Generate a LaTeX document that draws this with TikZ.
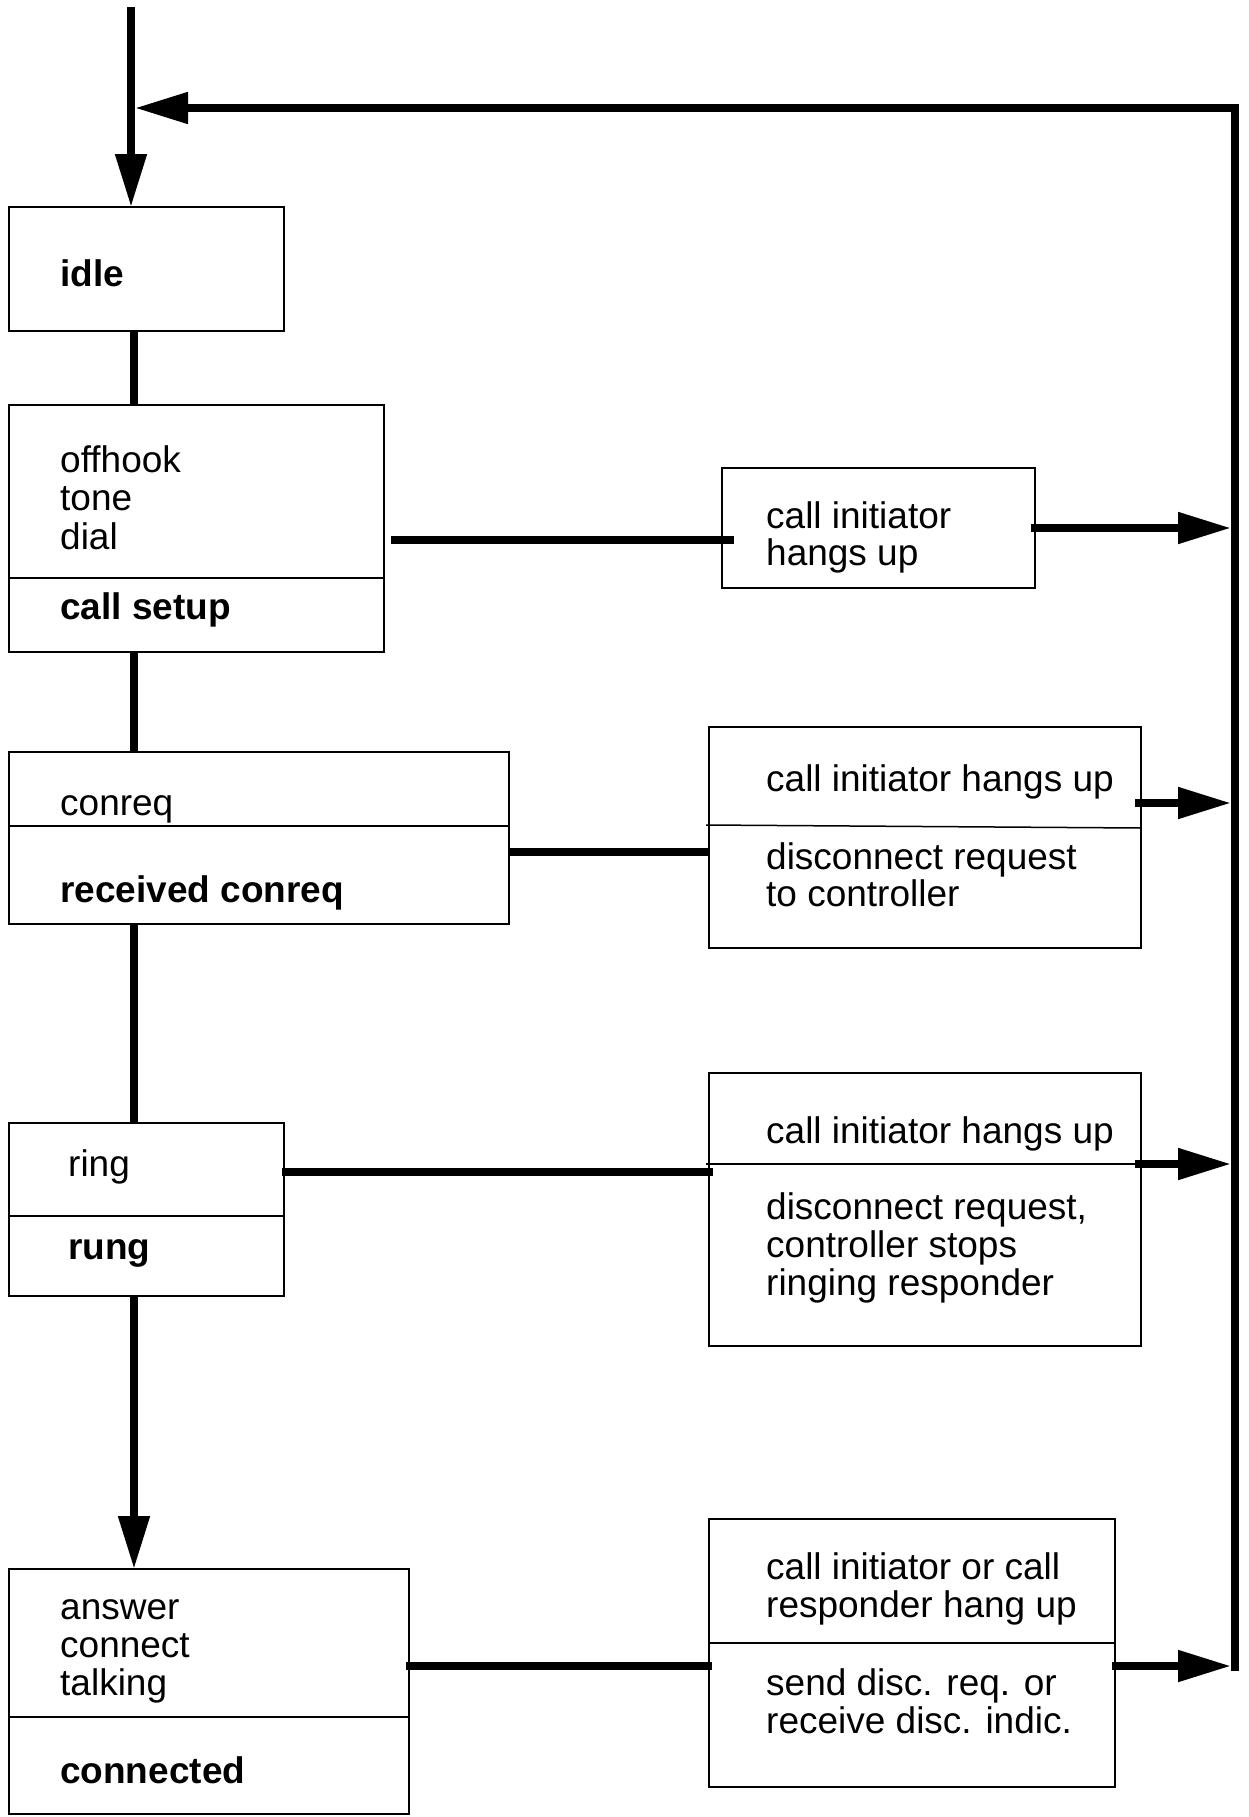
\documentclass[tikz,border=0pt]{standalone}
\usepackage{fontspec}
\setmainfont{Liberation Sans}
\usetikzlibrary{arrows.meta}
\newcommand\dgfont{\fontsize{37}{38}\selectfont}
\tikzset{
  box/.style={draw, line width=1.5pt, anchor=north west, inner sep=0pt, outer sep=0pt},
  divline/.style={line width=1.5pt},
  conn/.style={line width=8pt},
  flow/.style={line width=8pt, -{Triangle[length=53pt,width=30pt]}},
  txt/.style={anchor=base west, inner sep=0pt, font=\dgfont, yshift=-2pt},
  txtb/.style={txt, font=\dgfont\bfseries}
}
\begin{document}
\begin{tikzpicture}[x=1pt,y=-1pt]
\useasboundingbox (0,0) rectangle (1249,1817);
% state boxes
\node[box, minimum width=275pt, minimum height=124pt] (idle) at (9,207) {};
\node[box, minimum width=375pt, minimum height=247pt] (setup) at (9,405) {};
\node[box, minimum width=500pt, minimum height=172pt] (conreq) at (9,752) {};
\node[box, minimum width=275pt, minimum height=173pt] (rung) at (9,1123) {};
\node[box, minimum width=400pt, minimum height=245pt] (conn) at (9,1569) {};
% event boxes
\node[box, minimum width=313pt, minimum height=120pt] (b1) at (722,468) {};
\node[box, minimum width=432pt, minimum height=221pt] (b2) at (709,727) {};
\node[box, minimum width=432pt, minimum height=273pt] (b3) at (709,1073) {};
\node[box, minimum width=406pt, minimum height=268pt] (b4) at (709,1519) {};
% dividers
\draw[divline] (setup.west |- 0,578) -- (setup.east |- 0,578);
\draw[divline] (conreq.west |- 0,826) -- (conreq.east |- 0,826);
\draw[divline] (rung.west |- 0,1216) -- (rung.east |- 0,1216);
\draw[divline] (conn.west |- 0,1717) -- (conn.east |- 0,1717);
\draw[divline] (706,825) -- (b2.east |- 0,828);
\draw[divline] (706,1164) -- (b3.east |- 0,1164);
\draw[divline] (b4.west |- 0,1643) -- (b4.east |- 0,1643);
% texts
\node[txtb] (tidle) at (60,284) {idle};
\node[txt] (t1) at (60,470) {offhook};
\node[txt] (t2) at (60,508) {tone};
\node[txt] (t3) at (60,547) {dial};
\node[txtb] (t4) at (60,617) {call setup};
\node[txt] (t5) at (60,813) {conreq};
\node[txtb] (t6) at (60,900) {received conreq};
\node[txt] (t7) at (68,1174) {ring};
\node[txtb] (t8) at (68,1257) {rung};
\node[txt] (t9) at (60,1617) {answer};
\node[txt] (t10) at (60,1655) {connect};
\node[txt] (t11) at (60,1693) {talking};
\node[txtb] (t12) at (60,1781) {connected};
\node[txt] (u1) at (766,526) {call initiator};
\node[txt] (u2) at (766,563) {hangs up};
\node[txt] (u3) at (766,789) {call initiator hangs up};
\node[txt] (u4) at (766,867) {disconnect request};
\node[txt] (u5) at (766,904) {to controller};
\node[txt] (u6) at (766,1141) {call initiator hangs up};
\node[txt] (u7) at (766,1217) {disconnect request,};
\node[txt] (u8) at (766,1255) {controller stops};
\node[txt] (u9) at (766,1293) {ringing responder};
\node[txt] (u10) at (766,1577) {call initiator or call};
\node[txt] (u11) at (766,1615) {responder hang up};
\node[txt] (u12) at (766,1693) {send disc. req. or};
\node[txt] (u13) at (766,1731) {receive disc. indic.};
% coordinates
\coordinate (entry) at (131,7);
\coordinate (spine) at (134,0);
\coordinate (join) at (135,108);
\coordinate (rail) at (1235,108);
\coordinate (railend) at (1235,1671);
\coordinate (railin) at (1231,0);
% connectors
\draw[flow] (entry) -- (entry |- idle.north);
\draw[flow] (railend) -- (rail) -- (join);
\draw[conn] (idle.south -| spine) -- (setup.north -| spine);
\draw[conn] (setup.south -| spine) -- (conreq.north -| spine);
\draw[conn] (conreq.south -| spine) -- (rung.north -| spine);
\draw[flow] (rung.south -| spine) -- (conn.north -| spine);
\draw[conn] (391,540) -- (734,540);
\draw[conn] (conreq.east |- 0,852) -- (b2.west |- 0,852);
\draw[conn] (282,1172) -- (713,1172);
\draw[conn] (406,1666) -- (712,1666);
\draw[flow] (1031,528) -- (railin |- 0,528);
\draw[flow] (1135,803) -- (railin |- 0,803);
\draw[flow] (1135,1164) -- (railin |- 0,1164);
\draw[flow] (1112,1666) -- (railin |- 0,1666);
\end{tikzpicture}
\end{document}
